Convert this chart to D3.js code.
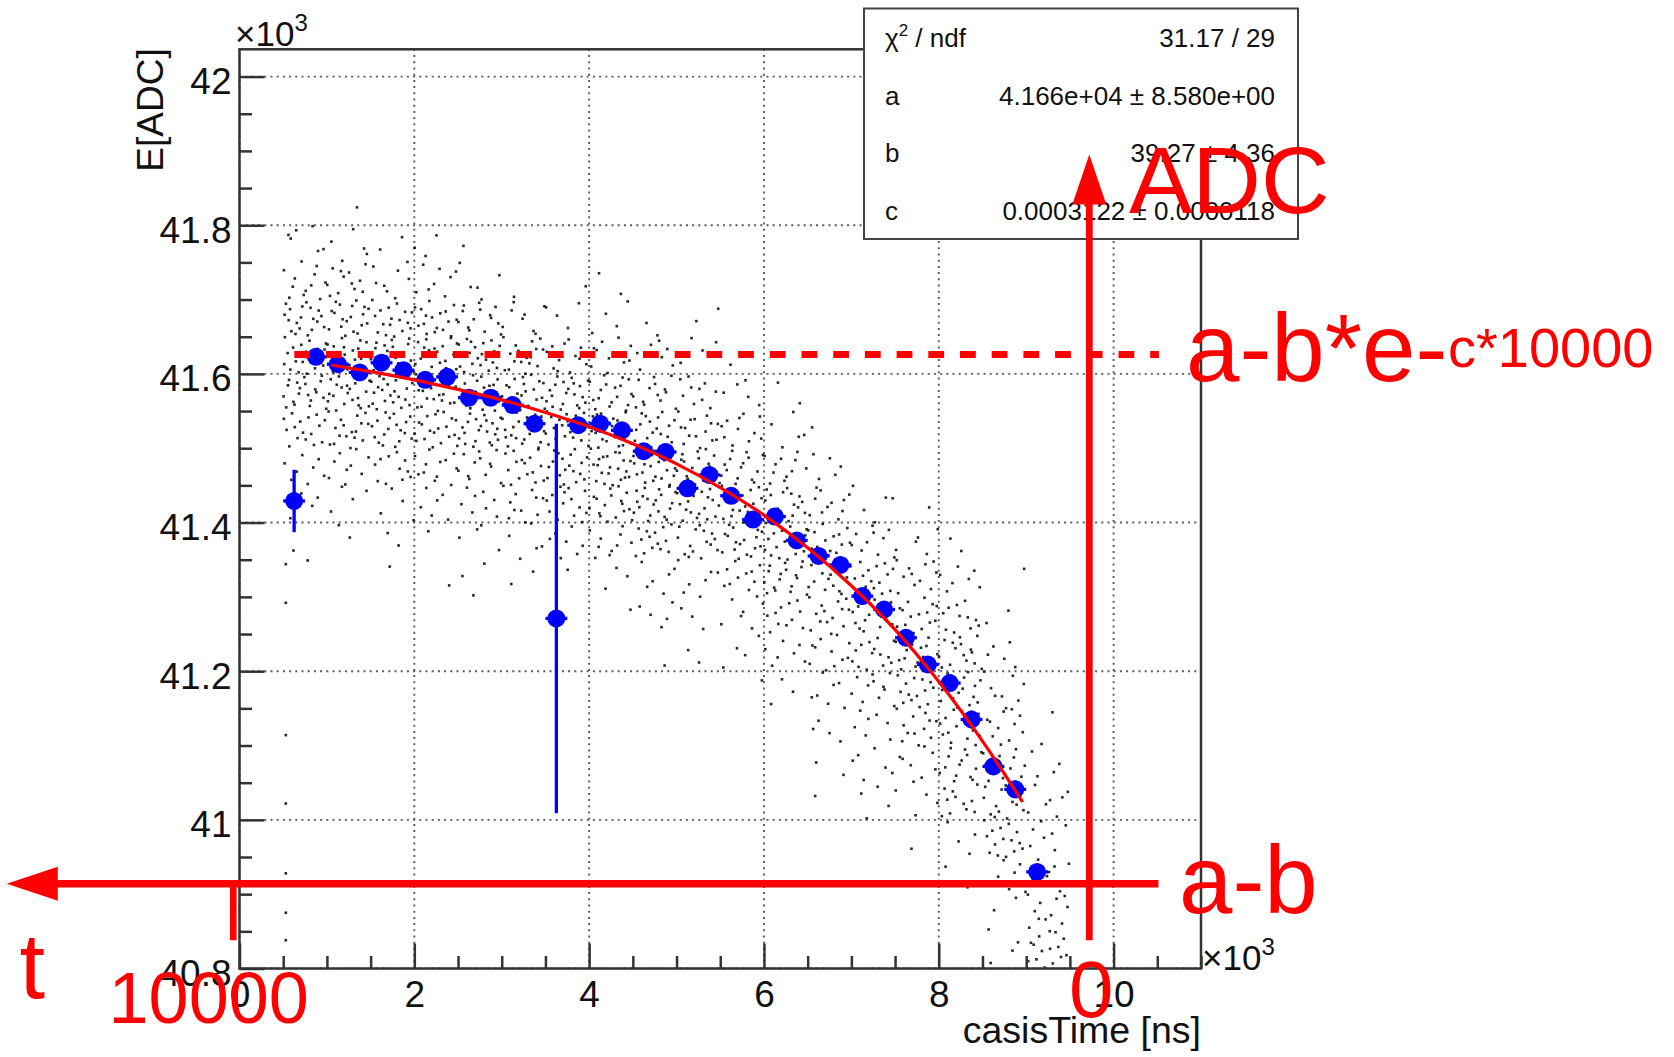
<!DOCTYPE html>
<html><head><meta charset="utf-8">
<script src="https://cdn.jsdelivr.net/npm/d3@7"></script>
<style>
html,body{margin:0;padding:0;background:#fff;}
svg{display:block;font-family:"Liberation Sans",Arial,Helvetica,sans-serif;}
</style></head><body>
<svg id="chart" width="1674" height="1057"></svg>
<script>
// ---------------- data (casisTime in 10^3 ns, E in 10^3 ADC) ----------------
const binCenters = [0.625,0.875,1.125,1.375,1.625,1.875,2.125,2.375,2.625,2.875,3.125,3.375,3.625,3.875,4.125,4.375,4.625,4.875,5.125,5.375,5.625,5.875,6.125,6.375,6.625,6.875,7.125,7.375,7.625,7.875,8.125,8.375,8.625,8.875,9.125];
const profileMeans = [41.429,41.623,41.613,41.602,41.615,41.605,41.592,41.596,41.568,41.568,41.558,41.533,41.271,41.531,41.533,41.524,41.496,41.495,41.446,41.464,41.436,41.404,41.408,41.376,41.355,41.343,41.301,41.283,41.245,41.209,41.184,41.135,41.072,41.041,40.930];
const profileErrors = [0.042,0.008,0.008,0.008,0.008,0.008,0.008,0.008,0.009,0.009,0.009,0.009,0.262,0.010,0.010,0.011,0.011,0.011,0.011,0.011,0.011,0.011,0.011,0.011,0.011,0.011,0.011,0.011,0.011,0.011,0.012,0.012,0.012,0.012,0.010];
const binHalfWidth = 0.125;

const fitT = [1.05,1.5,2,2.5,3,3.5,4,4.5,5,5.5,6,6.5,7,7.5,8,8.5,8.96];
const fitE = [41.612,41.603,41.592,41.579,41.565,41.548,41.529,41.506,41.479,41.447,41.410,41.366,41.315,41.256,41.186,41.106,41.024];

// scatter: counts per cell; columns of 0.5 (from t=0.5), rows of 0.05 (from E=40.8), rows listed bottom->top
const scatterColStart = 0.5, scatterColWidth = 0.5, scatterRowStart = 40.8, scatterRowHeight = 0.05;
const scatterCounts = [
  [0,0,0,0,0,0,0,0,0,0,0,1,4,8,16,20,20,19,11,6,0],
  [0,0,0,0,0,0,0,0,0,0,0,2,4,9,17,21,21,19,12,5,1],
  [0,0,0,0,0,0,0,0,0,0,1,2,4,11,18,21,20,17,7,3,0],
  [0,0,0,0,0,0,0,0,0,0,1,1,6,12,19,21,20,17,8,3,0],
  [0,0,0,0,0,0,0,0,0,0,3,4,8,12,21,21,20,14,5,1,0],
  [0,0,0,0,0,0,0,0,0,0,2,5,11,15,21,21,17,8,1,0,0],
  [0,0,0,0,0,0,0,0,0,0,2,7,14,18,21,20,12,4,1,0,0],
  [0,0,0,0,0,0,0,0,0,1,3,10,17,21,21,17,11,4,2,0,0],
  [0,0,0,0,0,0,0,0,1,5,6,14,20,21,18,14,7,2,0,0,0],
  [0,0,0,0,0,0,0,0,2,3,7,15,18,18,15,10,4,2,0,0,0],
  [0,0,0,0,0,0,0,1,4,6,11,18,18,15,11,5,1,0,0,0,0],
  [0,0,0,0,0,0,0,3,7,11,17,18,17,11,5,2,0,0,0,0,0],
  [0,0,0,0,1,2,4,7,11,14,15,15,11,5,1,0,0,0,0,0,0],
  [0,0,0,0,4,6,7,11,14,15,15,10,5,0,0,0,0,0,0,0,0],
  [0,0,0,1,4,8,12,14,15,15,11,5,1,0,0,0,0,0,0,0,0],
  [0,0,2,4,11,14,15,17,15,11,7,2,0,0,0,0,0,0,0,0,0],
  [3,3,7,15,14,12,11,8,5,2,1,0,0,0,0,0,0,0,0,0,0],
  [14,12,8,7,7,4,2,0,0,0,0,0,0,0,0,0,0,0,0,0,0]
];
const scatterOutliers = [[0.53,41.292],[0.53,41.114],[0.53,41.022],[0.53,40.928],[0.53,40.875],[0.53,40.838],[0.53,41.344],[0.78,41.349],[0.56,41.787]];

const xTickValues = [0,2,4,6,8,10];
const xTickLabels = ["0","2","4","6","8","10"];
const yTickValues = [40.8,41,41.2,41.4,41.6,41.8,42];
const yTickLabels = ["40.8","41","41.2","41.4","41.6","41.8","42"];

const statsNames = ["χ2 / ndf","a","b","c"];
const statsValues = ["31.17 / 29","4.166e+04 ± 8.580e+00","39.27 ± 4.36","0.0003122 ± 0.0000118"];

// hand-drawn annotation geometry in data units
const dashedLevel = {e:41.626, t0:0.627, t1:10.519};
const abLevel = {e:40.914, t0:-2.663, t1:10.513};
const t10000Mark = {t:-0.071, e0:40.914, e1:40.838};
const adcAxis = {t:9.722, e0:40.838, e1:41.895};

// ---------------- drawing ----------------
const svg = d3.select("#chart");
const x = d3.scaleLinear().domain([0,11]).range([239.5,1201]);
const y = d3.scaleLinear().domain([40.8,42.0367]).range([968.5,49.3]);
const X0=x.range()[0], X1=x.range()[1], Y0=y.range()[0], Y1=y.range()[1];

svg.append("rect").attr("width",1674).attr("height",1057).attr("fill","#fff");
svg.append("defs").append("clipPath").attr("id","frame")
  .append("rect").attr("x",X0).attr("y",Y1).attr("width",X1-X0).attr("height",Y0-Y1);

// grid
const grid = svg.append("g").attr("stroke","#5a5a5a").attr("stroke-width",1.9).attr("stroke-dasharray","2,4.2");
grid.selectAll("line.gx").data(xTickValues).join("line")
  .attr("x1",d=>x(d)).attr("x2",d=>x(d)).attr("y1",Y0).attr("y2",Y1);
grid.selectAll("line.gy").data(yTickValues).join("line")
  .attr("x1",X0).attr("x2",X1).attr("y1",d=>y(d)).attr("y2",d=>y(d));

// scatter (counts per cell laid out on a Halton low-discrepancy pattern)
function halton(i,b){let f=1,r=0;while(i>0){f/=b;r+=f*(i%b);i=Math.floor(i/b);}return r;}
const dots = [];
scatterCounts.forEach((col,c)=>col.forEach((n,r)=>{
  const k = (c*37 + r*23) % 97 + 1;
  for(let i=0;i<n;i++){
    const u = halton(k+i,2), v = halton(k+i,3);
    dots.push([scatterColStart + (c+u)*scatterColWidth, scatterRowStart + (r+v)*scatterRowHeight]);
  }
}));
scatterOutliers.forEach(p=>dots.push(p));
const plot = svg.append("g").attr("clip-path","url(#frame)");
plot.append("g").selectAll("rect").data(dots).join("rect")
  .attr("x",d=>x(d[0])-1.3).attr("y",d=>y(d[1])-1.3).attr("width",2.6).attr("height",2.6)
  .attr("fill","#111").attr("opacity",0.9);

// profile
const prof = binCenters.map((t,i)=>({t, m:profileMeans[i], e:profileErrors[i]}));
const pg = plot.append("g").attr("stroke","#0000ff").attr("stroke-width",3.3);
pg.selectAll("line.v").data(prof).join("line")
  .attr("x1",d=>x(d.t)).attr("x2",d=>x(d.t)).attr("y1",d=>y(d.m-d.e)).attr("y2",d=>y(d.m+d.e));
pg.selectAll("line.h").data(prof).join("line")
  .attr("x1",d=>x(d.t-binHalfWidth)).attr("x2",d=>x(d.t+binHalfWidth)).attr("y1",d=>y(d.m)).attr("y2",d=>y(d.m));
plot.append("g").selectAll("circle").data(prof).join("circle")
  .attr("cx",d=>x(d.t)).attr("cy",d=>y(d.m)).attr("r",9).attr("fill","#0000ff");

// fit curve
plot.append("path").datum(fitT.map((t,i)=>[t,fitE[i]]))
  .attr("d",d3.line().x(d=>x(d[0])).y(d=>y(d[1])).curve(d3.curveMonotoneX))
  .attr("fill","none").attr("stroke","#ff0000").attr("stroke-width",3.2);

// axes
const FS = 37;
const ya = svg.append("g").attr("transform",`translate(${X0},0)`)
  .call(d3.axisLeft(y).tickValues(yTickValues).tickFormat((d,i)=>yTickLabels[i]).tickSizeInner(-25).tickSizeOuter(0).tickPadding(8));
const yMinor = d3.range(0,25).map(i=>+(40.8+i*0.05).toFixed(2)).filter(v=>!yTickValues.includes(v));
const yam = svg.append("g").attr("transform",`translate(${X0},0)`)
  .call(d3.axisLeft(y).tickValues(yMinor).tickFormat("").tickSizeInner(-12.5).tickSizeOuter(0));
const xa = svg.append("g").attr("transform",`translate(0,${Y0})`)
  .call(d3.axisBottom(x).tickValues(xTickValues).tickFormat((d,i)=>xTickLabels[i]).tickSizeInner(-25).tickSizeOuter(0).tickPadding(12));
const xMinor = d3.range(0,23).map(i=>i*0.5).filter(v=>!xTickValues.includes(v) && v<=11);
const xam = svg.append("g").attr("transform",`translate(0,${Y0})`)
  .call(d3.axisBottom(x).tickValues(xMinor).tickFormat("").tickSizeInner(-12.5).tickSizeOuter(0));
[ya,yam,xa,xam].forEach(g=>{
  g.select(".domain").remove();
  g.selectAll(".tick line").attr("stroke","#333").attr("stroke-width",2.5);
  g.selectAll(".tick text").attr("font-size",FS).attr("fill","#111").attr("font-family","Liberation Sans, Arial, sans-serif");
});
ya.selectAll(".tick text").attr("dy","0.46em");
xa.selectAll(".tick text").attr("dy","0.71em");

// frame
svg.append("rect").attr("x",X0).attr("y",Y1).attr("width",X1-X0).attr("height",Y0-Y1)
  .attr("fill","none").attr("stroke","#333").attr("stroke-width",2.5);

// axis titles and exponents
svg.append("text").attr("x",X1).attr("y",1043).attr("text-anchor","end")
  .attr("font-size",37.5).attr("fill","#111").text("casisTime [ns]");
svg.append("text").attr("transform","translate(163,48.3) rotate(-90)").attr("text-anchor","end")
  .attr("font-size",37).attr("fill","#111").text("E[ADC]");
function exponent(xp, yp){
  const t = svg.append("text").attr("x",xp).attr("y",yp).attr("fill","#111").attr("font-size",35);
  t.append("tspan").text("×10");
  t.append("tspan").attr("font-size",24).attr("dy",-15).text("3");
}
exponent(235,46);
exponent(1202,970);

// stats box
svg.append("rect").attr("x",864).attr("y",8.5).attr("width",434).attr("height",230.5)
  .attr("fill","#fff").attr("stroke","#444").attr("stroke-width",2);
const sb = [46.5,104.5,162,219.5];
statsNames.forEach((n,i)=>{
  const t = svg.append("text").attr("x",885).attr("y",sb[i]).attr("font-size",26).attr("fill","#111");
  if(i===0){
    t.append("tspan").text("χ");
    t.append("tspan").attr("font-size",17).attr("dy",-11).text("2");
    t.append("tspan").attr("dy",11).text(" / ndf");
  } else t.text(n);
  svg.append("text").attr("x",1275).attr("y",sb[i]).attr("text-anchor","end")
    .attr("font-size",26).attr("fill","#111").text(statsValues[i]);
});

// red annotations
const red = "#ff0000";
const ann = svg.append("g");
ann.append("line").attr("x1",x(dashedLevel.t0)).attr("x2",x(dashedLevel.t1))
  .attr("y1",y(dashedLevel.e)).attr("y2",y(dashedLevel.e))
  .attr("stroke",red).attr("stroke-width",7).attr("stroke-dasharray","15.8,15.9");
// horizontal arrow (t axis)
const ay = y(abLevel.e), ax0 = x(abLevel.t0);
ann.append("line").attr("x1",ax0+40).attr("x2",x(abLevel.t1)).attr("y1",ay).attr("y2",ay)
  .attr("stroke",red).attr("stroke-width",7.3);
ann.append("path").attr("d",`M${ax0},${ay} L${ax0+51},${ay-17} L${ax0+51},${ay+17} Z`).attr("fill",red);
// small tick at t=10000
ann.append("line").attr("x1",x(t10000Mark.t)).attr("x2",x(t10000Mark.t))
  .attr("y1",y(t10000Mark.e0)).attr("y2",y(t10000Mark.e1)).attr("stroke",red).attr("stroke-width",6.6);
// vertical arrow (ADC axis)
const vx = x(adcAxis.t), vtop = y(adcAxis.e1);
ann.append("line").attr("x1",vx).attr("x2",vx).attr("y1",y(adcAxis.e0)).attr("y2",vtop+40)
  .attr("stroke",red).attr("stroke-width",6.8);
ann.append("path").attr("d",`M${vx},${vtop} L${vx-17},${vtop+50} L${vx+17},${vtop+50} Z`).attr("fill",red);

function redText(txt, xp, yp, size, anchor){
  ann.append("text").attr("x",xp).attr("y",yp).attr("font-size",size)
    .attr("text-anchor",anchor||"start").attr("fill",red).text(txt);
}
redText("ADC",1129,213,95);
redText("a-b*e-",1186,380.5,96);
redText("c*10000",1448,366.5,56);
redText("a-b",1179,913,96);
redText("t",32.3,998,92,"middle");
redText("10000",208.7,1022.5,72,"middle");
redText("0",1091.3,1017,80,"middle");
</script>
</body></html>
